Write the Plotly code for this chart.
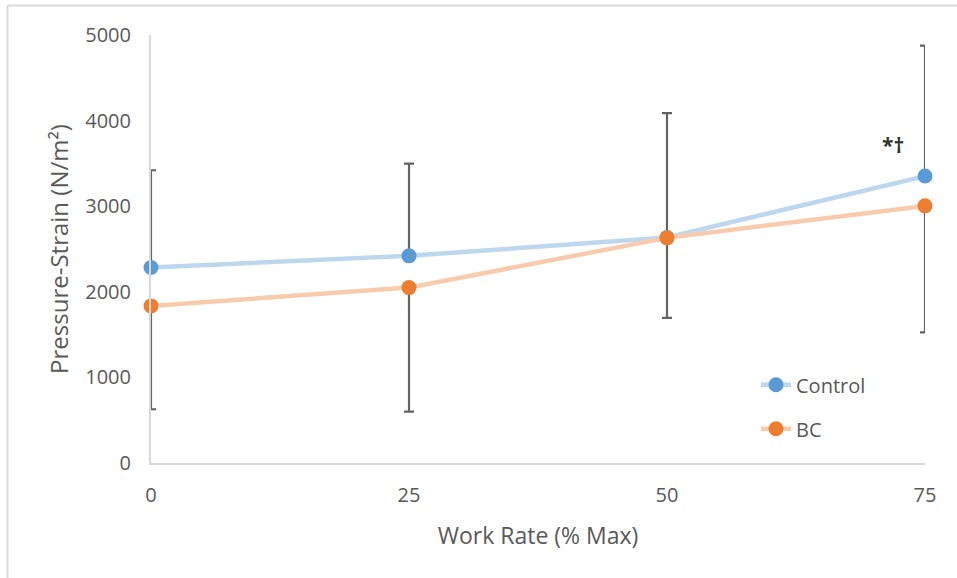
import plotly.graph_objects as go

# Work rate levels (% of max)
work_rate = [0, 25, 50, 75]
x_ticks = ["0", "25", "50", "75"]

# Pressure-strain means (N/m²)
control = [2284, 2420, 2635, 3352]
bc = [1835, 2049, 2630, 3004]

# Error bars: upward for Control, downward for BC
control_err_up = [1136, 1078, 1452, 1523]
bc_err_down = [1207, 1448, 935, 1478]

y_ticks = [0, 1000, 2000, 3000, 4000, 5000]

GREY_TXT = "#595959"
AXIS_LINE = "#D9D9D9"
FONT = "Open Sans"

fig = go.Figure()

fig.add_trace(go.Scatter(
    x=work_rate, y=control, name="Control", mode="lines+markers",
    line=dict(color="#BDD7EE", width=4.5),
    marker=dict(color="#5B9BD5", size=15),
    error_y=dict(type="data", array=control_err_up,
                 arrayminus=[0] * len(control_err_up), symmetric=False,
                 color="#636363", thickness=2.2, width=5),
    cliponaxis=False, legendgroup="c",
))

fig.add_trace(go.Scatter(
    x=work_rate, y=bc, name="BC", mode="lines+markers",
    line=dict(color="#F8CBAD", width=4.5),
    marker=dict(color="#ED7D31", size=15),
    error_y=dict(type="data", array=[0] * len(bc_err_down),
                 arrayminus=bc_err_down, symmetric=False,
                 color="#636363", thickness=2.2, width=5),
    cliponaxis=False, legendgroup="b",
))

# Significance marker above the Control point at 75 %
fig.add_annotation(x=work_rate[-1], y=3714, text="<b>*†</b>", showarrow=False,
                   xshift=-32, font=dict(family=FONT, size=21, color="#333333"))

# Light frame along the top and left edges of the chart area
L, R, T, B = 151, 925, 35, 462.7
W, H = R - L, B - T
def px(v): return (v - L) / W
def py(v): return (B - v) / H
fig.add_shape(type="line", xref="paper", yref="paper",
              x0=px(7.5), x1=px(957), y0=py(5.5), y1=py(5.5),
              line=dict(color=AXIS_LINE, width=2))
fig.add_shape(type="line", xref="paper", yref="paper",
              x0=px(7.5), x1=px(7.5), y0=py(5.5), y1=py(578),
              line=dict(color=AXIS_LINE, width=2))

fig.update_layout(
    width=957, height=578,
    margin=dict(l=L, r=957 - R, t=T, b=578 - B),
    paper_bgcolor="white", plot_bgcolor="white",
    font=dict(family=FONT, size=20, color=GREY_TXT),
    showlegend=True,
    legend=dict(x=px(756), y=py(365), xanchor="left", yanchor="top",
                bgcolor="rgba(0,0,0,0)", tracegroupgap=15,
                font=dict(family=FONT, size=20, color=GREY_TXT)),
    xaxis=dict(
        range=[0, 75], tickvals=work_rate, ticktext=x_ticks,
        showline=True, linecolor=AXIS_LINE, linewidth=2,
        showgrid=False, zeroline=False, ticks="",
        ticklabelstandoff=13,
        title=dict(text="Work Rate (% Max)", standoff=21,
                   font=dict(family=FONT, size=23, color=GREY_TXT)),
    ),
    yaxis=dict(
        range=[0, 5000], tickvals=y_ticks,
        showline=True, linecolor=AXIS_LINE, linewidth=2,
        showgrid=False, zeroline=False, ticks="",
        ticklabelstandoff=14,
        title=dict(text="Pressure-Strain (N/m²)", standoff=10,
                   font=dict(family=FONT, size=24, color=GREY_TXT)),
    ),
)

fig.write_html("out.html")
